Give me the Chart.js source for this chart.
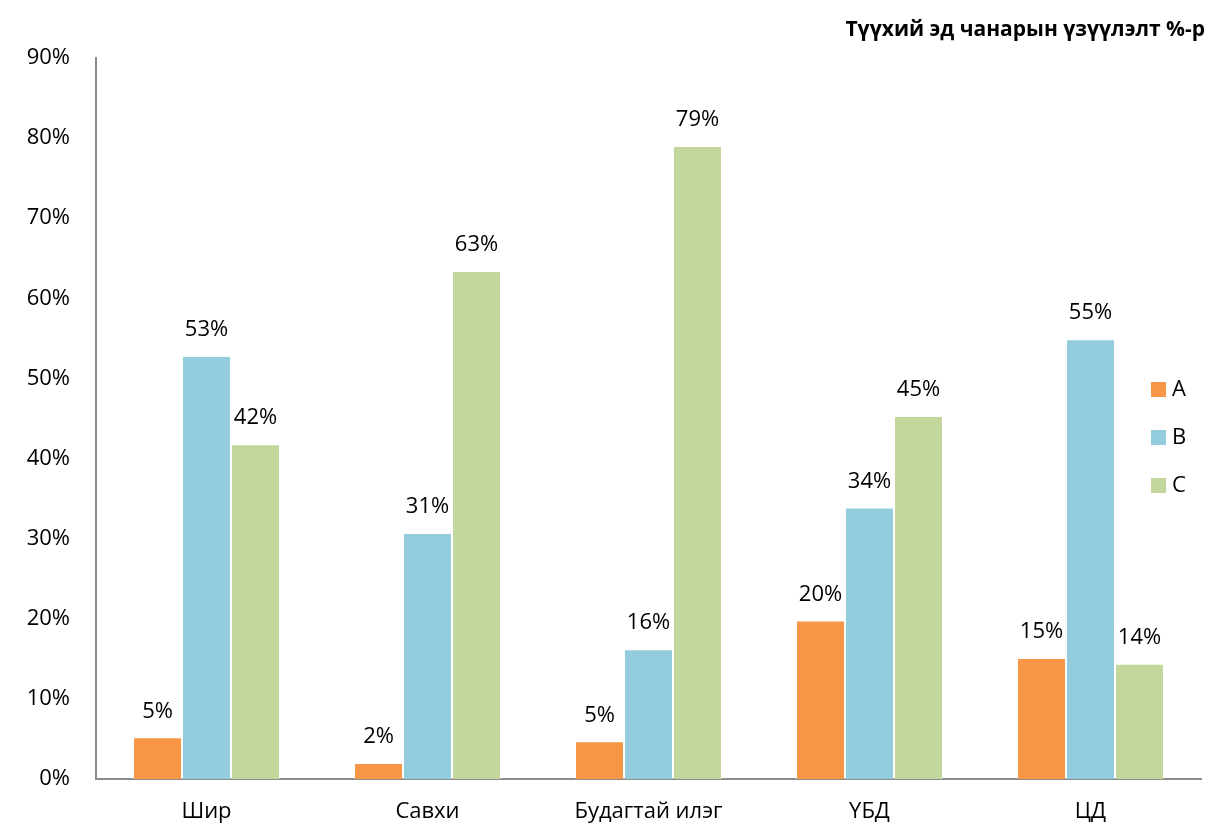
<!DOCTYPE html>
<html>
<head>
<meta charset="utf-8">
<script src="https://cdn.jsdelivr.net/npm/chart.js@4"></script>
<style>
  html, body { margin: 0; padding: 0; background: #fff; }
  #wrap { width: 1222px; height: 829px; }
</style>
</head>
<body>
<div id="wrap"><canvas id="qualityChart" width="1222" height="829"></canvas></div>
<script>
// Chart data
const categories = ['Шир', 'Савхи', 'Будагтай илэг', 'ҮБД', 'ЦД'];
const seriesNames = ['A', 'B', 'C'];
const valuesA = [5.2, 2.0, 4.7, 19.8, 15.1];
const valuesB = [52.8, 30.7, 16.2, 33.9, 54.9];
const valuesC = [41.8, 63.4, 79.0, 45.3, 14.4];
const seriesColors = ['#F79646', '#93CDDD', '#C3D69B'];
const yTicks = [0, 10, 20, 30, 40, 50, 60, 70, 80, 90];
const chartTitle = 'Түүхий эд чанарын үзүүлэлт %-р';

const FONT = "'Open Sans', sans-serif";
Chart.defaults.font.family = FONT;
Chart.defaults.color = '#000';

// value labels above bars
const barLabels = {
    id: 'barLabels',
    afterDatasetsDraw(chart) {
        const ctx = chart.ctx;
        ctx.save();
        ctx.font = '22px ' + FONT;
        ctx.fillStyle = '#000';
        ctx.textAlign = 'center';
        ctx.textBaseline = 'middle';
        chart.data.datasets.forEach((ds, i) => {
            chart.getDatasetMeta(i).data.forEach((bar, j) => {
                ctx.fillText(Math.round(ds.data[j]) + '%', bar.x, bar.y - 26);
            });
        });
        ctx.restore();
    }
};

// title + legend drawn in place
const extras = {
    id: 'extras',
    afterDraw(chart) {
        const ctx = chart.ctx;
        ctx.save();
        ctx.font = 'bold 21px ' + FONT;
        ctx.fillStyle = '#000';
        ctx.textAlign = 'right';
        ctx.textBaseline = 'middle';
        ctx.fillText(chartTitle, 1205, 30);

        ctx.font = '22px ' + FONT;
        ctx.textAlign = 'left';
        chart.data.datasets.forEach((ds, i) => {
            const y = 389 + i * 48;
            ctx.fillStyle = ds.backgroundColor;
            ctx.fillRect(1151, y - 7, 15, 15);
            ctx.fillStyle = '#000';
            ctx.fillText(ds.label, 1172, y + 1);
        });
        ctx.restore();
    }
};

new Chart(document.getElementById('qualityChart'), {
    type: 'bar',
    data: {
        labels: categories,
        datasets: [valuesA, valuesB, valuesC].map((vals, i) => ({
            label: seriesNames[i],
            data: vals,
            backgroundColor: seriesColors[i],
            borderColor: 'rgba(255,255,255,0.35)',
            borderWidth: 1,
            barPercentage: 1,
            categoryPercentage: 0.665
        }))
    },
    options: {
        responsive: false,
        animation: false,
        layout: { padding: { top: 58, right: 21, left: 0, bottom: 0 } },
        plugins: {
            legend: { display: false },
            tooltip: { enabled: false }
        },
        scales: {
            y: {
                min: 0,
                max: 90,
                afterFit(scale) { scale.width = 96; },
                afterBuildTicks(scale) { scale.ticks = yTicks.map(v => ({ value: v })); },
                grid: { display: false, drawTicks: false },
                border: { color: '#8c8c8c', width: 2 },
                ticks: {
                    padding: 26,
                    font: { size: 22 },
                    color: '#000',
                    callback: v => v + '%'
                }
            },
            x: {
                afterFit(scale) { scale.height = 50; },
                grid: { display: false, drawTicks: false },
                border: { color: '#8c8c8c', width: 2 },
                ticks: {
                    padding: 20,
                    font: { size: 22 },
                    color: '#000'
                }
            }
        }
    },
    plugins: [barLabels, extras]
});
</script>
</body>
</html>
